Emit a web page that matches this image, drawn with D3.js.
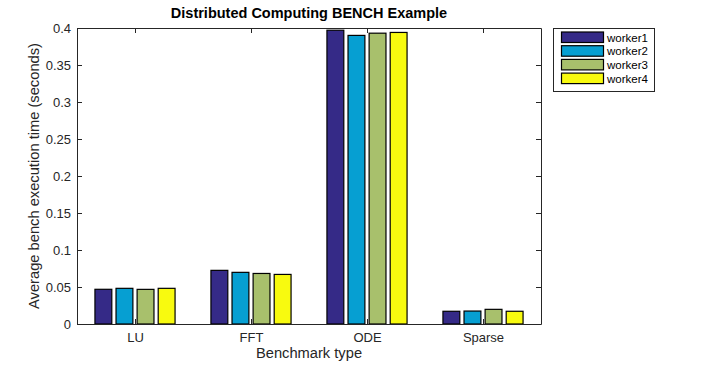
<!DOCTYPE html>
<html><head><meta charset="utf-8">
<script src="https://cdn.jsdelivr.net/npm/d3@7"></script>
<style>body{margin:0;background:#fff;} svg{display:block;font-family:"Liberation Sans",Arial,Helvetica,sans-serif;}</style>
</head><body>
<svg id="c" width="709" height="365"></svg>
<script>
const categories = ["LU", "FFT", "ODE", "Sparse"];
const seriesNames = ["worker1", "worker2", "worker3", "worker4"];
const worker1 = [0.0469, 0.0725, 0.397, 0.0172];
const worker2 = [0.0482, 0.0698, 0.390, 0.0175];
const worker3 = [0.0468, 0.0683, 0.393, 0.0198];
const worker4 = [0.0482, 0.0670, 0.394, 0.0172];
const colors = ["#352a87", "#069fd2", "#a8c06c", "#f8fa0f"];
const yTicks = [0, 0.05, 0.1, 0.15, 0.2, 0.25, 0.3, 0.35, 0.4];
const title = "Distributed Computing BENCH Example";
const xLabel = "Benchmark type";
const yLabel = "Average bench execution time (seconds)";

const series = [worker1, worker2, worker3, worker4];
const svg = d3.select("#c");
const L = 77, R = 541, T = 28, B = 324;
const x = d3.scaleLinear().domain([0.5, categories.length + 0.5]).range([L, R]);
const y = d3.scaleLinear().domain([0, 0.4]).range([B, T]);
const axisColor = "#262626";
const spacing = 0.727 / 4, bw = spacing * 0.8;

// bars
series.forEach((vals, k) => {
  svg.append("g").selectAll("rect").data(vals).join("rect")
    .attr("x", (d, i) => x(i + 1 + (k - 1.5) * spacing - bw / 2))
    .attr("width", x(bw) - x(0))
    .attr("y", d => y(d))
    .attr("height", d => y(0) - y(d))
    .attr("fill", colors[k])
    .attr("stroke", "#000").attr("stroke-width", 1.2);
});

// axes
const tickVals = categories.map((c, i) => i + 1);
const axB = svg.append("g").attr("transform", `translate(0,${B})`)
  .call(d3.axisBottom(x).tickValues(tickVals).tickFormat((d) => categories[d - 1]).tickSizeInner(-5).tickSizeOuter(0).tickPadding(9));
const axT = svg.append("g").attr("transform", `translate(0,${T})`)
  .call(d3.axisTop(x).tickValues(tickVals).tickFormat("").tickSizeInner(-5).tickSizeOuter(0));
const axL = svg.append("g").attr("transform", `translate(${L},0)`)
  .call(d3.axisLeft(y).tickValues(yTicks).tickFormat(d => d === 0 ? "0" : d3.format("")(+d.toFixed(2))).tickSizeInner(-5).tickSizeOuter(0).tickPadding(6));
const axR = svg.append("g").attr("transform", `translate(${R},0)`)
  .call(d3.axisRight(y).tickValues(yTicks).tickFormat("").tickSizeInner(-5).tickSizeOuter(0));
[axB, axT, axL, axR].forEach(g => {
  g.selectAll("path").attr("stroke", axisColor);
  g.selectAll("line").attr("stroke", axisColor);
  g.selectAll("text").attr("fill", axisColor).attr("font-size", 13).attr("font-family", "Liberation Sans, Arial, sans-serif");
});

// title and labels
svg.append("text").attr("x", (L + R) / 2).attr("y", 18).attr("text-anchor", "middle")
  .attr("font-weight", "bold").attr("font-size", 14.5).attr("fill", "#000").text(title);
svg.append("text").attr("x", (L + R) / 2).attr("y", 358).attr("text-anchor", "middle")
  .attr("font-size", 14.7).attr("fill", axisColor).text(xLabel);
svg.append("text").attr("transform", `translate(39,${(T + B) / 2}) rotate(-90)`).attr("text-anchor", "middle")
  .attr("font-size", 14.7).attr("fill", axisColor).text(yLabel);

// legend
const lg = svg.append("g");
lg.append("rect").attr("x", 553.5).attr("y", 28.5).attr("width", 101).attr("height", 63)
  .attr("fill", "#fff").attr("stroke", axisColor).attr("stroke-width", 1);
seriesNames.forEach((n, k) => {
  const yy = 32 + k * 13.7;
  lg.append("rect").attr("x", 561.5).attr("y", yy).attr("width", 42).attr("height", 10.5)
    .attr("fill", colors[k]).attr("stroke", "#000").attr("stroke-width", 1.2);
  lg.append("text").attr("x", 607).attr("y", yy + 9.5).attr("font-size", 11.5).attr("fill", "#000").text(n);
});
</script>
</body></html>
